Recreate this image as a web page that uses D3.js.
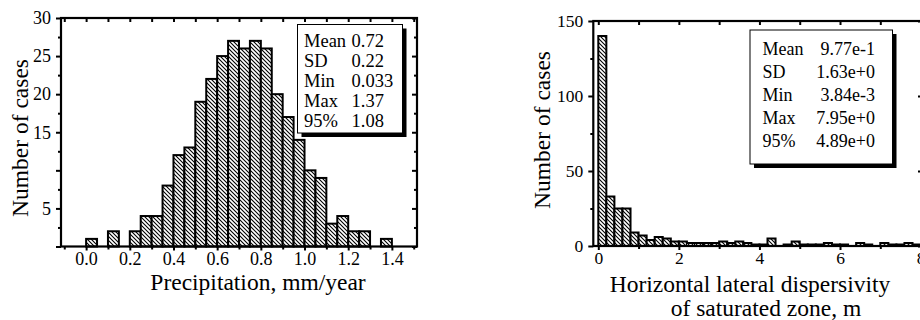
<!DOCTYPE html>
<html><head><meta charset="utf-8">
<script src="https://cdn.jsdelivr.net/npm/d3@7"></script>
<style>
html,body{margin:0;padding:0;background:#fff;}
svg{display:block;font-family:"Liberation Serif","Times New Roman",serif;}
.tick line{stroke:#000;stroke-width:2;}
.domain{display:none;}
</style></head>
<body>
<svg id="c" width="920" height="320"></svg>
<script>
// ---- data ----
const precipBinWidth = 0.05;
const precipCounts = [1,0,2,0,2,4,4,8,12,13,19,22,25,27,26,27,26,20,17,14,10,9,3,4,2,2,0,1];
const precipXTicks = [0.0,0.2,0.4,0.6,0.8,1.0,1.2,1.4];
const precipYTickLabels = [5,15,20,25,30];
const precipStats = ["0.72","0.22","0.033","1.37","1.08"];

const dispBinWidth = 0.2;
const dispCounts = [140,33,25,25,9,7,4,6,5,3,3,2,2,2,2,3,2,3,2,1,1,5,0,1,3,1,1,1,2,1,1,0,2,1,0,2,1,1,2,1];
const dispXTicks = [0,2,4,6,8];
const dispYTicks = [0,50,100,150];
const dispStats = ["9.77e-1","1.63e+0","3.84e-3","7.95e+0","4.89e+0"];

const statLabels = ["Mean","SD","Min","Max","95%"];

// ---- drawing ----
const svg = d3.select("#c");
const defs = svg.append("defs");
const pat = defs.append("pattern").attr("id","hatch").attr("patternUnits","userSpaceOnUse")
  .attr("width",4).attr("height",4);
pat.append("rect").attr("width",4).attr("height",4).attr("fill","#fff");
pat.append("path").attr("d","M0,0L4,4M-1,3L1,5M3,-1L5,1").attr("stroke","#000").attr("stroke-width",1.1);

function tickOnly(sel){ sel.selectAll("text").remove(); return sel; }

function panel(o){
  const g = svg.append("g");
  const x = d3.scaleLinear().domain(o.xDom).range([o.left,o.right]);
  const y = d3.scaleLinear().domain(o.yDom).range([o.bottom,o.top]);
  const bins = o.counts.map((c,i)=>({x0:i*o.bw, x1:(i+1)*o.bw, c}));
  // bars
  g.selectAll("rect.bar").data(bins.filter(d=>d.c>0)).join("rect")
    .attr("class","bar")
    .attr("x",d=>x(d.x0)).attr("width",d=>x(d.x1)-x(d.x0))
    .attr("y",d=>y(d.c)).attr("height",d=>y(0)-y(d.c))
    .attr("fill","url(#hatch)").attr("stroke","#000").attr("stroke-width",2);
  // axes
  const fs = o.tickFont;
  const yl = g.append("g").attr("transform",`translate(${o.left},0)`)
    .call(d3.axisLeft(y).tickValues(o.yMajor).tickSize(5).tickPadding(5)
      .tickFormat(d=>o.yLabels.includes(d)?d3.format(o.yFmt)(d):""));
  yl.selectAll("text").filter(function(){return this.textContent==="";}).remove();
  yl.selectAll("text").attr("font-size",fs).attr("font-family","Liberation Serif").attr("fill","#000");
  tickOnly(g.append("g").attr("transform",`translate(${o.left},0)`)
    .call(d3.axisLeft(y).tickValues(o.yMinor).tickSize(3).tickFormat("")));
  tickOnly(g.append("g").attr("transform",`translate(${o.right},0)`)
    .call(d3.axisRight(y).tickValues(o.yMajor).tickSize(-5).tickFormat("")));
  tickOnly(g.append("g").attr("transform",`translate(${o.right},0)`)
    .call(d3.axisRight(y).tickValues(o.yMinor).tickSize(-3).tickFormat("")));
  const xb = g.append("g").attr("transform",`translate(0,${o.bottom})`)
    .call(d3.axisBottom(x).tickValues(o.xMajor).tickSize(4).tickPadding(2)
      .tickFormat(d3.format(o.xFmt)));
  xb.selectAll("text").attr("font-size",fs).attr("font-family","Liberation Serif").attr("fill","#000");
  tickOnly(g.append("g").attr("transform",`translate(0,${o.bottom})`)
    .call(d3.axisBottom(x).tickValues(o.xMinor).tickSize(3).tickFormat("")));
  tickOnly(g.append("g").attr("transform",`translate(0,${o.top})`)
    .call(d3.axisTop(x).tickValues(o.xMajor.concat(o.xMinor)).tickSize(-4).tickFormat("")));
  // frame
  g.append("rect").attr("x",o.left).attr("y",o.top).attr("width",o.right-o.left).attr("height",o.bottom-o.top)
    .attr("fill","none").attr("stroke","#000").attr("stroke-width",2.2);
  // titles
  g.append("text").attr("transform",`translate(${o.yTitleX},${o.yTitleY}) rotate(-90)`)
    .attr("text-anchor","middle").attr("font-size",o.titleFont).text("Number of cases");
  o.xTitle.forEach((t,i)=>{
    g.append("text").attr("x",t.x).attr("y",t.y).attr("text-anchor","middle")
      .attr("font-size",o.titleFont).text(t.s);
  });
  // stats box
  const b = o.box;
  g.append("rect").attr("x",b.x+4).attr("y",b.y+4).attr("width",b.w).attr("height",b.h).attr("fill","#000");
  g.append("rect").attr("x",b.x).attr("y",b.y).attr("width",b.w).attr("height",b.h)
    .attr("fill","#fff").attr("stroke","#000").attr("stroke-width",1);
  statLabels.forEach((s,i)=>{
    g.append("text").attr("x",b.lx).attr("y",b.by+i*b.step).attr("font-size",b.fs).text(s);
    g.append("text").attr("x",b.vx).attr("y",b.by+i*b.step).attr("font-size",b.fs)
      .attr("text-anchor",b.vAnchor).text(o.stats[i]);
  });
}

panel({
  counts:precipCounts, bw:precipBinWidth,
  xDom:[-0.115,1.515], yDom:[0,30],
  left:61, right:417, top:18, bottom:246.5,
  yMajor:d3.range(0,31,5), yMinor:d3.range(2.5,30,5), yLabels:precipYTickLabels, yFmt:"d",
  xMajor:precipXTicks, xMinor:d3.range(-0.1,1.55,0.2).map(v=>+v.toFixed(2)), xFmt:".1f",
  tickFont:18, titleFont:23.5,
  yTitleX:28, yTitleY:138,
  xTitle:[{s:"Precipitation, mm/year", x:258, y:290}],
  stats:precipStats,
  box:{x:297.5,y:24.5,w:105,h:108.5,lx:304,vx:351.5,vAnchor:"start",by:46.5,step:20,fs:18.5}
});

panel({
  counts:dispCounts, bw:dispBinWidth,
  xDom:[-0.124,8.06], yDom:[0,150],
  left:593.3, right:923, top:21, bottom:246,
  yMajor:dispYTicks, yMinor:[25,75,125], yLabels:dispYTicks, yFmt:"d",
  xMajor:dispXTicks, xMinor:[1,3,5,7], xFmt:"d",
  tickFont:17.5, titleFont:23.5,
  yTitleX:550, yTitleY:130,
  xTitle:[{s:"Horizontal lateral dispersivity", x:750, y:291.5},{s:"of saturated zone, m", x:766, y:316}],
  stats:dispStats,
  box:{x:750,y:30,w:142.5,h:134,lx:762.5,vx:875,vAnchor:"end",by:54.5,step:23.2,fs:18}
});
</script>
</body></html>
